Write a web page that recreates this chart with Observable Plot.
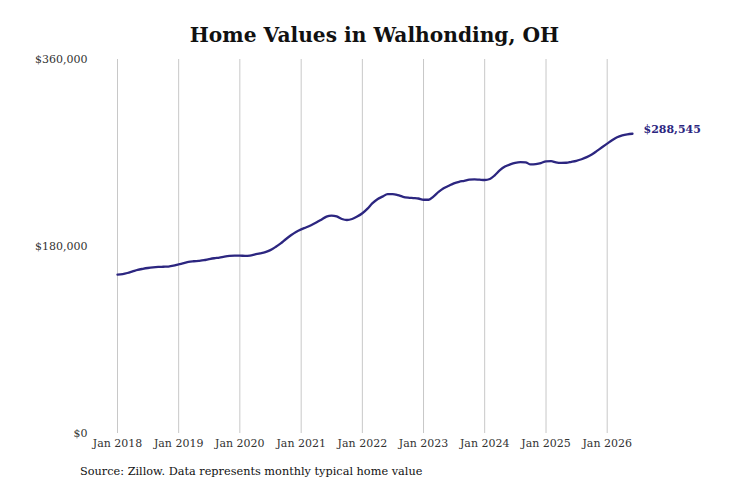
<!DOCTYPE html>
<html>
<head>
<meta charset="utf-8">
<script src="https://cdn.jsdelivr.net/npm/d3@7"></script>
<script src="https://cdn.jsdelivr.net/npm/@observablehq/plot@0.6"></script>
<style>
  body { margin: 0; background: #fff; font-family: "DejaVu Serif", serif; }
  #wrap { width: 731px; height: 487px; position: relative; overflow: hidden; }
  #title { height: 50px; box-sizing: border-box; padding-top: 24px; padding-left: 18px; text-align: center; font-size: 20.2px; line-height: 22px; font-weight: bold; color: #111; }
  #caption { height: 27px; line-height: 24px; padding-left: 80px; font-size: 11.3px; color: #111; }
  svg { display: block; }
</style>
</head>
<body>
<div id="wrap">
  <div id="title">Home Values in Walhonding, OH</div>
  <div id="chart"></div>
  <div id="caption">Source: Zillow. Data represents monthly typical home value</div>
</div>
<script>
const startYear = 2018;
const v2018 = [153000, 153500, 154500, 156000, 157500, 158500, 159300, 159900, 160300, 160500, 160700, 161500];
const v2019 = [162800, 164000, 165200, 165800, 166200, 166800, 167800, 168700, 169300, 170200, 170900, 171200];
const v2020 = [171200, 171000, 171300, 172400, 173400, 174600, 176500, 179500, 183000, 187000, 190800, 194000];
const v2021 = [196500, 198500, 200500, 203000, 205800, 208800, 209800, 209000, 206500, 205500, 206500, 208800];
const v2022 = [212000, 216500, 221500, 225500, 228000, 230500, 230500, 229500, 227800, 227000, 226600, 226200];
const v2023 = [225000, 225000, 228000, 232500, 236000, 238500, 240800, 242300, 243200, 244300, 244600, 244300];
const v2024 = [244000, 245000, 248500, 253500, 257000, 259000, 260500, 261200, 261000, 259000, 259300, 260200];
const v2025 = [262000, 262100, 261000, 260500, 260600, 261500, 262500, 264000, 266000, 268500, 272000, 275500];
const v2026 = [279000, 282500, 285200, 287000, 288000, 288545];
const tickYears = [2018, 2019, 2020, 2021, 2022, 2023, 2024, 2025, 2026];
const yTicks = [0, 180000, 360000];
const lastLabel = "$288,545";
const lineColor = "#2c2680";

const allValues = [v2018, v2019, v2020, v2021, v2022, v2023, v2024, v2025, v2026];
const data = [];
allValues.forEach((arr, yi) => arr.forEach((v, m) => data.push({date: new Date(Date.UTC(startYear + yi, m, 1)), value: v})));
const last = data[data.length - 1];
const xTicks = tickYears.map(y => new Date(Date.UTC(y, 0, 1)));

const chart = Plot.plot({
  width: 731,
  height: 410,
  marginTop: 9,
  marginBottom: 27,
  marginLeft: 117,
  marginRight: 99,
  style: {fontFamily: "DejaVu Serif", fontSize: "11px", color: "#333", background: "#fff"},
  x: {type: "utc", domain: [data[0].date, last.date]},
  y: {domain: [0, 360000]},
  marks: [
    Plot.gridX(xTicks, {stroke: "#c8c8c8", strokeOpacity: 1, strokeWidth: 1}),
    Plot.axisX(xTicks, {tickSize: 0, tickPadding: 6, tickFormat: d => "Jan " + d.getUTCFullYear(), fontSize: 11, fill: "#333", label: null}),
    Plot.axisY(yTicks, {tickSize: 0, tickPadding: 30, tickFormat: d => "$" + d3.format(",")(d), fontSize: 11, fill: "#333", label: null}),
    Plot.line(data, {x: "date", y: "value", stroke: lineColor, strokeWidth: 2.3, curve: "monotone-x"}),
    Plot.text([last], {x: "date", y: "value", text: () => lastLabel, dx: 11, dy: -4, textAnchor: "start", fill: lineColor, fontWeight: "bold", fontSize: 11})
  ]
});
document.getElementById("chart").appendChild(chart);
</script>
</body>
</html>
